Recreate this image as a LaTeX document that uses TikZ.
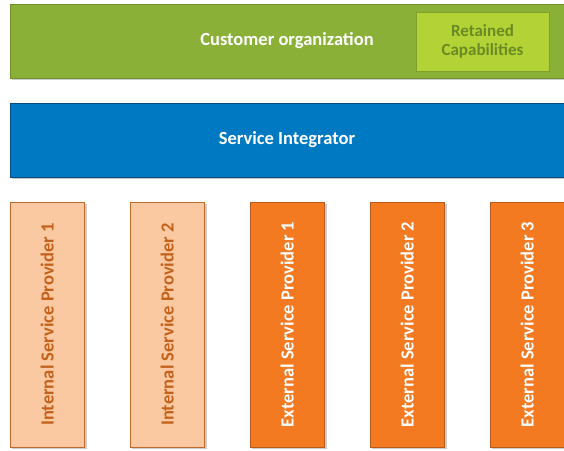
\documentclass[tikz,border=0pt]{standalone}
\usepackage{fontspec}
\setmainfont{Carlito}
\usetikzlibrary{shadows}
\definecolor{greenfill}{HTML}{8AB037}
\definecolor{greenline}{HTML}{6F8F2C}
\definecolor{retfill}{HTML}{B2D235}
\definecolor{retline}{HTML}{7FA02E}
\definecolor{rettext}{HTML}{6A8A25}
\definecolor{bluefill}{HTML}{0079C3}
\definecolor{blueline}{HTML}{0A4A7A}
\definecolor{intfill}{HTML}{FBC9A1}
\definecolor{intline}{HTML}{C0692A}
\definecolor{inttext}{HTML}{C4621C}
\definecolor{extfill}{HTML}{F47A22}
\definecolor{extline}{HTML}{B85A1B}
\tikzset{
  bar/.style={draw=#1, line width=1pt, drop shadow={shadow xshift=2pt, shadow yshift=-2pt, opacity=0.4}},
  lbl/.style={font=\fontsize{18.5}{20}\selectfont\bfseries, align=center, inner sep=0pt},
  smalllbl/.style={font=\fontsize{17}{19}\selectfont\bfseries, align=center, inner sep=0pt},
}
\begin{document}
\begin{tikzpicture}[x=1pt,y=-1pt]
\useasboundingbox (0,0) rectangle (564,450);
% customer organization
\path[bar=greenline, fill=greenfill] (10,4) rectangle (570,78);
\node[lbl, text=white] (cust) at (287,41) {Customer organization};
\path[draw=retline, line width=1pt, fill=retfill] (416,12) rectangle (549,71);
\node[smalllbl, text=rettext] (ret) at (482.5,41.5) {Retained\\Capabilities};
% service integrator
\path[bar=blueline, fill=bluefill] (10,103) rectangle (570,177);
\node[lbl, text=white] (si) at (287,140) {Service Integrator};
% providers
\path[bar=intline, fill=intfill] (10,202) rectangle (84.5,447);
\node[lbl, text=inttext, rotate=90] (isp1) at (47.25,324.5) {Internal Service Provider 1};
\path[bar=intline, fill=intfill] (130,202) rectangle (204.5,447);
\node[lbl, text=inttext, rotate=90] (isp2) at (167.25,324.5) {Internal Service Provider 2};
\path[bar=extline, fill=extfill] (250,202) rectangle (324.5,447);
\node[lbl, text=white, rotate=90] (esp1) at (287.25,324.5) {External Service Provider 1};
\path[bar=extline, fill=extfill] (370,202) rectangle (444.5,447);
\node[lbl, text=white, rotate=90] (esp2) at (407.25,324.5) {External Service Provider 2};
\path[bar=extline, fill=extfill] (490,202) rectangle (564.5,447);
\node[lbl, text=white, rotate=90] (esp3) at (527.25,324.5) {External Service Provider 3};
\end{tikzpicture}
\end{document}
